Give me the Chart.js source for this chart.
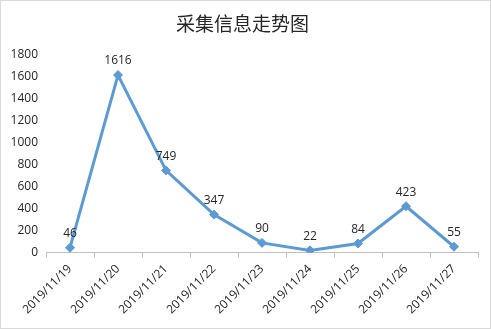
<!DOCTYPE html>
<html>
<head>
<meta charset="utf-8">
<script src="https://cdn.jsdelivr.net/npm/chart.js@4"></script>
<style>
  html, body { margin: 0; padding: 0; background: #fff; }
  #wrap { width: 489px; height: 327px; border: 1px solid #d9d9d9; }
</style>
</head>
<body>
<div id="wrap"><canvas id="trendChart" width="489" height="327"></canvas></div>
<script>
const dates = ["2019/11/19", "2019/11/20", "2019/11/21", "2019/11/22", "2019/11/23", "2019/11/24", "2019/11/25", "2019/11/26", "2019/11/27"];
const counts = [46, 1616, 749, 347, 90, 22, 84, 423, 55];
const yTicks = [0, 200, 400, 600, 800, 1000, 1200, 1400, 1600, 1800];

// draw value above each point
const valueLabels = {
  id: "valueLabels",
  afterDatasetsDraw(chart) {
    const ctx = chart.ctx;
    const meta = chart.getDatasetMeta(0);
    ctx.save();
    ctx.font = "12px 'Open Sans', sans-serif";
    ctx.fillStyle = "#262626";
    ctx.textAlign = "center";
    ctx.textBaseline = "bottom";
    meta.data.forEach((pt, i) => {
      ctx.fillText(String(counts[i]), pt.x, pt.y - 8);
    });
    ctx.restore();
  }
};

const ctx = document.getElementById("trendChart").getContext("2d");
new Chart(ctx, {
  type: "line",
  data: {
    labels: dates,
    datasets: [{
      data: counts,
      borderColor: "#5b9bd5",
      backgroundColor: "#5b9bd5",
      borderWidth: 3,
      pointStyle: "rectRot",
      pointRadius: 4.5,
      pointBorderWidth: 1,
      tension: 0,
      fill: false
    }]
  },
  options: {
    responsive: false,
    animation: false,
    layout: { padding: { left: 6, right: 12, top: 4, bottom: 7 } },
    plugins: {
      legend: { display: false },
      tooltip: { enabled: false },
      title: {
        display: true,
        text: "采集信息走势图",
        color: "#262626",
        font: { family: "'Noto Sans CJK SC', sans-serif", size: 19, weight: "normal" },
        padding: { top: 7, bottom: 20 }
      }
    },
    scales: {
      x: {
        offset: true,
        afterFit(scale) { scale.paddingLeft = 0; scale.paddingRight = 0; },
        grid: { offset: true, drawOnChartArea: false, drawTicks: true, tickLength: 5, color: "#bfbfbf" },
        border: { color: "#bfbfbf" },
        ticks: {
          minRotation: 45,
          maxRotation: 45,
          color: "#262626",
          padding: 4,
          font: { family: "'Open Sans', sans-serif", size: 12 }
        }
      },
      y: {
        min: 0,
        max: 1800,
        afterBuildTicks(axis) { axis.ticks = yTicks.map(v => ({ value: v })); },
        afterFit(scale) { scale.width = 39; },
        grid: { display: false, drawTicks: false },
        border: { display: false },
        ticks: {
          color: "#262626",
          padding: 8,
          callback: v => String(v),
          font: { family: "'Open Sans', sans-serif", size: 12 }
        }
      }
    }
  },
  plugins: [valueLabels]
});
</script>
</body>
</html>
